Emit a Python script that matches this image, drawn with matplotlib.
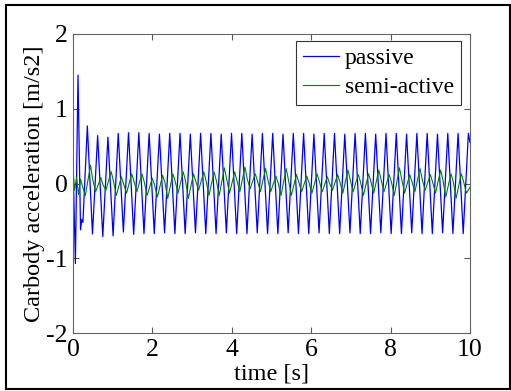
import numpy as np
import matplotlib
matplotlib.use("Agg")
import matplotlib.pyplot as plt
from matplotlib.patches import Rectangle

# ---------------- data ----------------
series_names = ["passive", "semi-active"]

# passive: transient start (time, value)
passive_start_t = [0.0, 0.06, 0.126, 0.19, 0.22, 0.25]
passive_start_v = [0.30, -1.07, 1.45, -0.62, -0.48, -0.52]
# steady oscillation: first peak time and period (s)
passive_first_peak = 0.361
passive_period = 0.2594
passive_peaks = [0.77, 0.64, 0.62, 0.67, 0.68, 0.68, 0.67, 0.66, 0.67, 0.67,
                 0.66, 0.67, 0.67, 0.66, 0.67, 0.67, 0.66, 0.67, 0.67, 0.66,
                 0.67, 0.67, 0.66, 0.67, 0.67, 0.66, 0.67, 0.67, 0.66, 0.67,
                 0.67, 0.66, 0.67, 0.67, 0.66, 0.67, 0.67, 0.67]
passive_troughs = [-0.675, -0.71, -0.70, -0.65, -0.68, -0.67, -0.67, -0.66, -0.67, -0.67,
                   -0.66, -0.67, -0.67, -0.66, -0.67, -0.67, -0.66, -0.67, -0.67, -0.66,
                   -0.67, -0.67, -0.66, -0.67, -0.67, -0.66, -0.67, -0.67, -0.66, -0.67,
                   -0.67, -0.66, -0.67, -0.67, -0.66, -0.67, -0.67]
passive_end_t = 10.0
passive_end_v = 0.55

# semi-active: transient start
semi_start_t = [0.0, 0.04, 0.09, 0.14, 0.19, 0.24]
semi_start_v = [0.20, -0.09, 0.08, -0.15, 0.06, -0.04]
# troughs near passive peaks, peaks near passive troughs
semi_troughs = [-0.16, -0.11, -0.09, -0.16, -0.13, -0.11, -0.16, -0.18, -0.20, -0.13,
                -0.20, -0.09, -0.16, -0.16, -0.13, -0.11, -0.07, -0.11, -0.11, -0.16,
                -0.16, -0.11, -0.13, -0.11, -0.09, -0.13, -0.11, -0.16, -0.13, -0.11,
                -0.16, -0.13, -0.11, -0.09, -0.13, -0.18, -0.20, -0.13]
semi_peaks = [0.245, 0.08, 0.16, 0.09, 0.13, 0.13, 0.07, 0.11, 0.13, 0.156,
              0.13, 0.156, 0.156, 0.21, 0.156, 0.22, 0.13, 0.20, 0.10, 0.20,
              0.12, 0.10, 0.13, 0.09, 0.12, 0.18, 0.12, 0.13, 0.18, 0.12,
              0.21, 0.12, 0.20, 0.12, 0.18, 0.13, 0.13]
# small shoulder on the falling side of each semi-active peak
semi_shoulders = [0.05, -0.02, 0.04, -0.01, 0.03, 0.02, -0.02, 0.02, 0.03, 0.04,
                  0.03, 0.04, 0.04, 0.06, 0.04, 0.06, 0.03, 0.05, 0.01, 0.05,
                  0.02, 0.01, 0.03, 0.00, 0.02, 0.05, 0.02, 0.03, 0.05, 0.02,
                  0.06, 0.02, 0.05, 0.02, 0.05, 0.03, 0.03]
semi_end_t = 10.0
semi_end_v = -0.05

x_ticks = [0, 2, 4, 6, 8, 10]
y_ticks = [-2, -1, 0, 1, 2]
x_label = "time [s]"
y_label = "Carbody acceleration [m/s2]"

# ---------------- build polylines from extrema ----------------
def build(start_t, start_v, first_t, period, a_vals, b_vals, end_t, end_v, shoulders=None):
    t = list(start_t)
    v = list(start_v)
    n = max(len(a_vals), len(b_vals))
    for k in range(n):
        ta = first_t + k * period
        if k < len(a_vals):
            t.append(ta); v.append(a_vals[k])
        if k < len(b_vals):
            t.append(ta + period / 2); v.append(b_vals[k])
            if shoulders is not None and k < len(shoulders):
                t.append(ta + period * 0.72); v.append(shoulders[k])
    t.append(end_t); v.append(end_v)
    return np.array(t), np.array(v)

tp, vp = build(passive_start_t, passive_start_v, passive_first_peak, passive_period,
               passive_peaks, passive_troughs, passive_end_t, passive_end_v)
ts, vs = build(semi_start_t, semi_start_v, passive_first_peak - 0.05, passive_period,
               semi_troughs, semi_peaks, semi_end_t, semi_end_v, semi_shoulders)

# ---------------- plot ----------------
plt.rcParams['font.family'] = ['Liberation Serif', 'DejaVu Serif']
W, H = 511, 391
fig = plt.figure(figsize=(W / 100, H / 100), dpi=100)
ax = fig.add_axes([73 / W, 1 - 333 / H, (470 - 73) / W, (333 - 34) / H])

ax.plot(tp, vp, color=(0, 0, 1), lw=0.9, label=series_names[0])
ax.plot(ts, vs, color=(0, 0.5, 0), lw=0.8, label=series_names[1])

ax.set_xlim(0, 10)
ax.set_ylim(-2, 2)
ax.set_xticks(x_ticks)
ax.set_yticks(y_ticks)
ax.set_xticklabels([str(v) for v in x_ticks])
ax.set_yticklabels([str(v) for v in y_ticks])
ax.tick_params(direction='in', length=4, width=0.8, color='#555555',
               top=True, right=True, labelsize=18.5, pad=4)
for s in ax.spines.values():
    s.set_color('#666666')
    s.set_linewidth(0.8)

ax.set_xlabel(x_label, fontsize=17.5, labelpad=2)
ax.set_ylabel(y_label, fontsize=17.5, labelpad=1)

leg = ax.legend(loc='upper right', bbox_to_anchor=(461 / W, 1 - 40.7 / H),
                bbox_transform=fig.transFigure, borderaxespad=0,
                fontsize=17, handlelength=1.5, handletextpad=0.25,
                labelspacing=0.3, borderpad=0.3, fancybox=False, framealpha=1)
leg.get_frame().set_edgecolor('#333333')
leg.get_frame().set_linewidth(0.8)

fig.patches.append(Rectangle((6 / W, 2 / H), (510 - 6) / W, (389 - 5) / H,
                             transform=fig.transFigure, fill=False,
                             edgecolor='black', linewidth=1.5))

fig.savefig("out.png", dpi=100)
